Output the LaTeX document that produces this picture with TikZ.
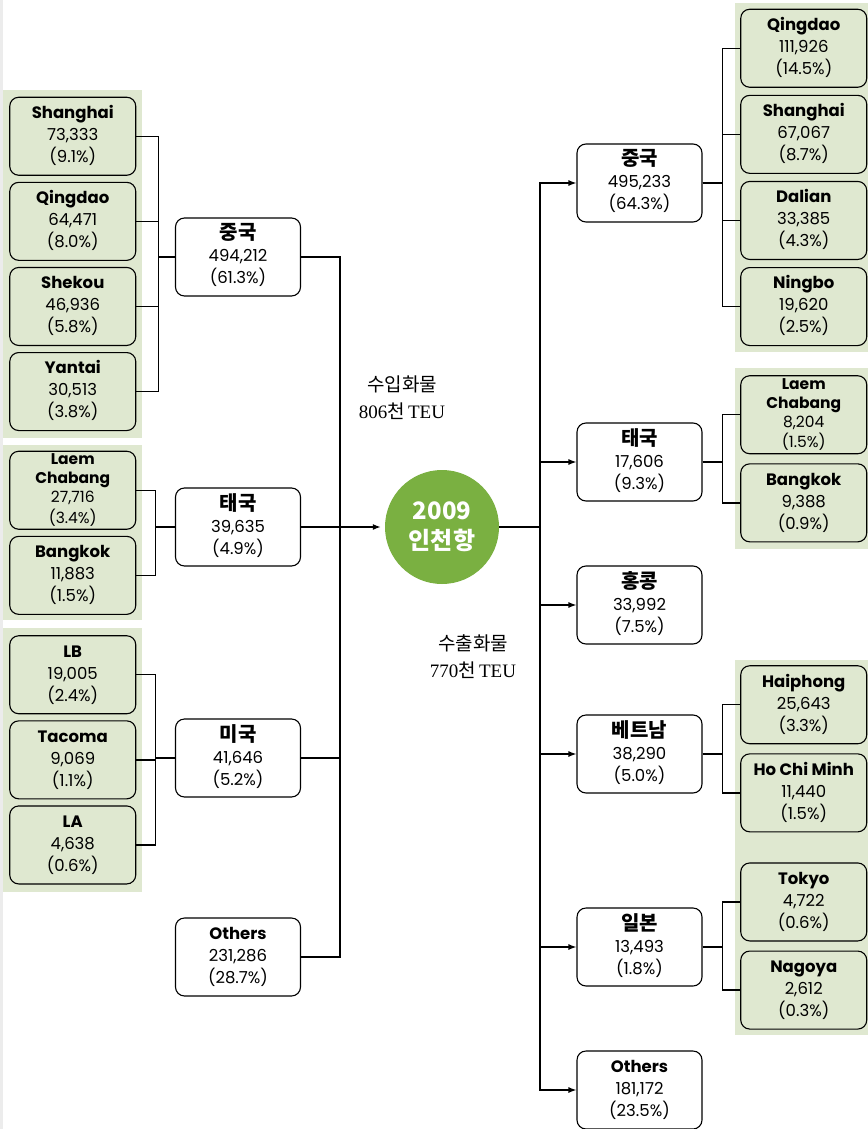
\documentclass[tikz,border=0pt]{standalone}
\usepackage{fontspec}
\setmainfont{Poppins}
\newfontfamily\kr{Noto Sans CJK KR}
\newfontfamily\ser{Liberation Serif}
\usepackage{tikz}
\usetikzlibrary{matrix,arrows.meta}

\definecolor{panelgreen}{RGB}{223,232,208}
\definecolor{hubgreen}{RGB}{122,176,65}

\newcommand\port[3]{\begin{tabular}{@{}c@{}}\bfseries #1\\#2\\(#3)\end{tabular}}
\newcommand\portlong[4]{\fontsize{15.5}{19}\selectfont\begin{tabular}{@{}c@{}}\bfseries #1\\\bfseries #2\\#3\\(#4)\end{tabular}}
\newcommand\nation[3]{\begin{tabular}{@{}c@{}}{\kr\bfseries\fontsize{20}{23}\selectfont #1}\\#2\\(#3)\end{tabular}}

\tikzset{
    portbox/.style={rectangle, draw, line width=1.1pt, rounded corners=9pt,
        fill=panelgreen, minimum width=126pt, minimum height=78pt, inner sep=0pt,
        font=\fontsize{16.5}{22}\selectfont},
    nationbox/.style={portbox, fill=white, minimum width=125pt},
    panel/.style={matrix of nodes, fill=panelgreen, inner xsep=6pt,
        anchor=north west, nodes={portbox}},
    link/.style={line width=1.3pt},
    arr/.style={link, -{Latex[length=8pt,width=6pt]}},
    note/.style={align=center, font=\fontsize{19}{27}\selectfont}
}

\begin{document}
\begin{tikzpicture}[x=1pt,y=-1pt]

    \useasboundingbox (0,0) rectangle (867,1129);
    \fill[white] (0,0) rectangle (867,1129);
    \fill[gray!15] (0,0) rectangle (2.5,1129);

    % import side: ports
    \matrix (lcn) [panel, row sep=6pt, inner ysep=6.5pt] at (3,90) {
        \port{Shanghai}{73,333}{9.1\%} \\
        \port{Qingdao}{64,471}{8.0\%} \\
        \port{Shekou}{46,936}{5.8\%} \\
        \port{Yantai}{30,513}{3.8\%} \\
    };
    \matrix (lth) [panel, row sep=6pt, inner ysep=5.5pt] at (3,445) {
        \portlong{Laem}{Chabang}{27,716}{3.4\%} \\
        \port{Bangkok}{11,883}{1.5\%} \\
    };
    \matrix (lus) [panel, row sep=6pt, inner ysep=7pt] at (3,628) {
        \port{LB}{19,005}{2.4\%} \\
        \port{Tacoma}{9,069}{1.1\%} \\
        \port{LA}{4,638}{0.6\%} \\
    };

    % export side: ports
    \matrix (rcn) [panel, inner xsep=5pt, row sep=7pt, inner ysep=5.5pt] at (735,3) {
        \port{Qingdao}{111,926}{14.5\%} \\
        \port{Shanghai}{67,067}{8.7\%} \\
        \port{Dalian}{33,385}{4.3\%} \\
        \port{Ningbo}{19,620}{2.5\%} \\
    };
    \matrix (rth) [panel, inner xsep=5pt, row sep=9pt, inner ysep=7pt] at (735,368) {
        \portlong{Laem}{Chabang}{8,204}{1.5\%} \\
        \port{Bangkok}{9,388}{0.9\%} \\
    };
    \matrix (rvj) [panel, inner xsep=5pt, row sep=9pt, inner ysep=5pt] at (735,660) {
        \port{Haiphong}{25,643}{3.3\%} \\
        \port{Ho Chi Minh}{11,440}{1.5\%} \\[21pt]
        \port{Tokyo}{4,722}{0.6\%} \\
        \port{Nagoya}{2,612}{0.3\%} \\
    };

    % countries
    \node[nationbox] (imCN) at (238,257) {\nation{중국}{494,212}{61.3\%}};
    \node[nationbox] (imTH) at (238,527) {\nation{태국}{39,635}{4.9\%}};
    \node[nationbox] (imUS) at (238,758) {\nation{미국}{41,646}{5.2\%}};
    \node[nationbox] (imOT) at (238,957) {\port{Others}{231,286}{28.7\%}};

    \node[nationbox] (exCN) at (639.5,183) {\nation{중국}{495,233}{64.3\%}};
    \node[nationbox] (exTH) at (639.5,462) {\nation{태국}{17,606}{9.3\%}};
    \node[nationbox] (exHK) at (639.5,605) {\nation{홍콩}{33,992}{7.5\%}};
    \node[nationbox] (exVN) at (639.5,754) {\nation{베트남}{38,290}{5.0\%}};
    \node[nationbox] (exJP) at (639.5,947) {\nation{일본}{13,493}{1.8\%}};
    \node[nationbox] (exOT) at (639.5,1090) {\port{Others}{181,172}{23.5\%}};

    % hub
    \node[circle, fill=hubgreen, minimum size=114pt, inner sep=0pt, text=white,
        align=center, font=\kr\bfseries\fontsize{24}{30}\selectfont] (hub) at (442,527) {2009\\인천항};

    \node[note] (imLabel) at (402,398) {{\kr 수입화물}\\{\ser 806}{\kr 천}\,{\ser TEU}};
    \node[note] (exLabel) at (473,657) {{\kr 수출화물}\\{\ser 770}{\kr 천}\,{\ser TEU}};

    % trunks
    \coordinate (lt) at (340,527);
    \coordinate (rt) at (540,527);

    \draw[link] (imCN.east) -| (lt);
    \draw[link] (imUS.east) -| (lt);
    \draw[link] (imOT.east) -| (lt);
    \draw[link] (imTH.east) -- (lt);
    \draw[arr, shorten >=4pt] (lt) -- (hub.west);
    \draw[link] (hub.east) -- (rt);

    \draw[arr] (rt) |- (exCN.west);
    \draw[arr] (rt) |- (exTH.west);
    \draw[arr] (rt) |- (exHK.west);
    \draw[arr] (rt) |- (exVN.west);
    \draw[arr] (rt) |- (exJP.west);
    \draw[arr] (rt) |- (exOT.west);

    % port links
    \draw[link] (lcn-1-1.east) -- ++(22,0) |- (imCN.west);
    \draw[link] (lcn-2-1.east) -- ++(22,0) |- (imCN.west);
    \draw[link] (lcn-3-1.east) -- ++(22,0) |- (imCN.west);
    \draw[link] (lcn-4-1.east) -- ++(22,0) |- (imCN.west);
    \draw[link] (lth-1-1.east) -- ++(19,0) |- (imTH.west);
    \draw[link] (lth-2-1.east) -- ++(19,0) |- (imTH.west);
    \draw[link] (lus-1-1.east) -- ++(19,0) |- (imUS.west);
    \draw[link] (lus-2-1.east) -- ++(19,0) |- (imUS.west);
    \draw[link] (lus-3-1.east) -- ++(19,0) |- (imUS.west);

    \draw[link] (exCN.east) -- ++(20,0) |- (rcn-1-1.west);
    \draw[link] (exCN.east) -- ++(20,0) |- (rcn-2-1.west);
    \draw[link] (exCN.east) -- ++(20,0) |- (rcn-3-1.west);
    \draw[link] (exCN.east) -- ++(20,0) |- (rcn-4-1.west);
    \draw[link] (exTH.east) -- ++(20,0) |- (rth-1-1.west);
    \draw[link] (exTH.east) -- ++(20,0) |- (rth-2-1.west);
    \draw[link] (exVN.east) -- ++(20,0) |- (rvj-1-1.west);
    \draw[link] (exVN.east) -- ++(20,0) |- (rvj-2-1.west);
    \draw[link] (exJP.east) -- ++(20,0) |- (rvj-3-1.west);
    \draw[link] (exJP.east) -- ++(20,0) |- (rvj-4-1.west);

\end{tikzpicture}
\end{document}
